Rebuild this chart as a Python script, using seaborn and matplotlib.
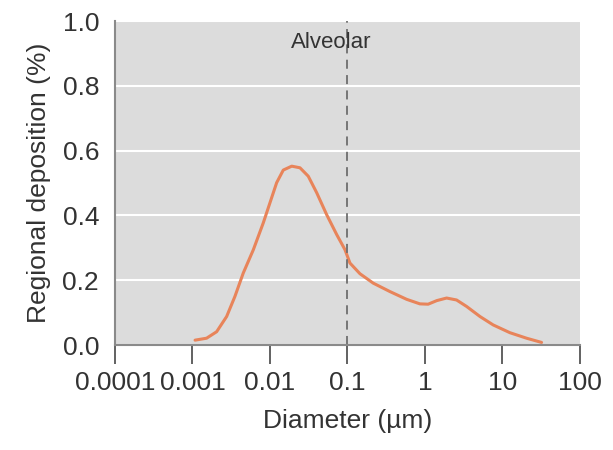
import numpy as np
import pandas as pd
import matplotlib
matplotlib.use('Agg')
import matplotlib.pyplot as plt
import seaborn as sns

# Values
diameter = [0.00108, 0.00152, 0.00205, 0.00276, 0.00353, 0.00452, 0.0061, 0.0082,
            0.01, 0.0122, 0.01486, 0.0191, 0.0244, 0.0312, 0.0401, 0.054, 0.0726,
            0.093, 0.1077, 0.145, 0.215, 0.353, 0.581, 0.861, 1.10, 1.42, 1.905,
            2.56, 3.45, 5.13, 7.6, 12.5, 20.5, 32]
deposition = [0.015, 0.021, 0.041, 0.088, 0.150, 0.222, 0.294, 0.377,
              0.439, 0.501, 0.540, 0.552, 0.547, 0.521, 0.470, 0.402, 0.341,
              0.294, 0.253, 0.220, 0.191, 0.165, 0.141, 0.127, 0.126, 0.137, 0.145,
              0.139, 0.119, 0.088, 0.062, 0.038, 0.021, 0.008]

xticks = [0.0001, 0.001, 0.01, 0.1, 1, 10, 100]
xtick_labels = ['0.0001', '0.001', '0.01', '0.1', '1', '10', '100']
yticks = [0.0, 0.2, 0.4, 0.6, 0.8, 1.0]

df = pd.DataFrame({'Diameter': diameter, 'Deposition': deposition})

sns.set_style('darkgrid', {'axes.facecolor': '#dcdcdc', 'grid.color': 'white',
                           'axes.edgecolor': '#8a8a8a'})
plt.rcParams['font.family'] = ['Liberation Sans', 'DejaVu Sans']

fig = plt.figure(figsize=(6.13, 4.5), dpi=100)
ax = fig.add_axes([0.1876, 0.2333, 0.7584, 0.7200])

sns.lineplot(data=df, x='Diameter', y='Deposition', ax=ax, color='#e8845a', linewidth=2.2)
ax.axvline(0.1, color='#6e6e6e', linestyle=(0, (5, 3.5)), linewidth=1.3)
ax.text(0.062, 0.935, 'Alveolar', ha='center', va='center', fontsize=16, color='#333333')

ax.set_xscale('log')
ax.set_xlim(0.0001, 100)
ax.set_ylim(0, 1.0)
ax.set_xticks(xticks)
ax.set_xticklabels(xtick_labels)
ax.set_yticks(yticks)
ax.set_yticklabels([f'{v:.1f}' for v in yticks])
ax.xaxis.set_minor_locator(matplotlib.ticker.NullLocator())
ax.grid(axis='x', visible=False)
ax.grid(axis='y', color='white', linewidth=1.5)

for side in ['top', 'right']:
    ax.spines[side].set_visible(False)
for side in ['left', 'bottom']:
    ax.spines[side].set_visible(True)
    ax.spines[side].set_linewidth(1.5)
    ax.spines[side].set_color('#8a8a8a')

ax.tick_params(axis='x', bottom=True, length=14, width=1.3, color='#555555',
               labelsize=19, labelcolor='#333333', pad=5)
ax.tick_params(axis='y', left=False, labelsize=19, labelcolor='#333333', pad=8)

ax.set_xlabel('Diameter (µm)', fontsize=19, color='#333333', labelpad=10)
ax.set_ylabel('Regional deposition (%)', fontsize=19, color='#333333', labelpad=8)

fig.savefig('out.png', dpi=100, facecolor='white')
